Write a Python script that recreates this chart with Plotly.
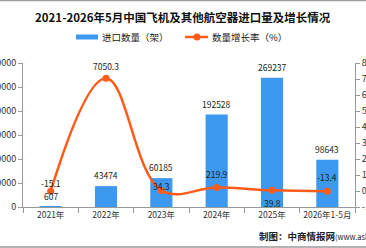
import plotly.graph_objects as go

categories = ["2021年", "2022年", "2023年", "2024年", "2025年", "2026年1-5月"]
import_qty = [607, 43474, 60185, 192528, 269237, 98643]
growth_rate = [-15.1, 7050.3, 34.3, 219.9, 39.8, -13.4]
left_ticks = [0, 50000, 100000, 150000, 200000, 250000, 300000]
right_ticks = [-1000, 0, 1000, 2000, 3000, 4000, 5000, 6000, 7000, 8000]

# style: vertical offsets of growth labels (px)
growth_label_shift = [8, 12, 4, 13, -13, 14]

W, H = 366, 248
L, R, T, B = 23, 11, 63, 41
pw, ph = W - L - R, H - T - B

def px(x):
    return (x - L) / pw

def py(y):
    return (H - B - y) / ph

BLUE = "#3d98ef"
ORANGE = "#ff5c1a"
FONT = "Noto Sans CJK SC, Liberation Sans, sans-serif"

fig = go.Figure()
fig.add_trace(go.Bar(x=categories, y=import_qty, marker=dict(color=BLUE, line=dict(width=0)),
                     showlegend=False, yaxis="y"))
fig.add_trace(go.Scatter(x=categories, y=growth_rate, yaxis="y2", mode="lines+markers",
                         line=dict(color=ORANGE, width=2.5, shape="spline", smoothing=1.1),
                         marker=dict(color=ORANGE, size=7), showlegend=False, cliponaxis=False))

ann = []
for c, v in zip(categories, import_qty):
    ann.append(dict(x=c, y=v, xref="x", yref="y", text=str(v), showarrow=False,
                    yanchor="middle", yshift=11, font=dict(size=8.5, color="#222", family=FONT)))
for c, v, s in zip(categories, growth_rate, growth_label_shift):
    ann.append(dict(x=c, y=v, xref="x", yref="y2", text=f"{v}", showarrow=False,
                    yanchor="middle", yshift=s, font=dict(size=8.5, color="#222", family=FONT)))

# title
ann.append(dict(x=px(183), y=py(17), xref="paper", yref="paper", showarrow=False,
                text="<b>2021-2026年5月中国飞机及其他航空器进口量及增长情况</b>",
                font=dict(size=11.5, color="#111", family=FONT), xanchor="center", yanchor="middle"))
# legend texts
ann.append(dict(x=px(100), y=py(37), xref="paper", yref="paper", showarrow=False,
                text="进口数量（架）", font=dict(size=9.5, color="#222", family=FONT),
                xanchor="left", yanchor="middle"))
ann.append(dict(x=px(210), y=py(37), xref="paper", yref="paper", showarrow=False,
                text="数量增长率（%）", font=dict(size=9.5, color="#222", family=FONT),
                xanchor="left", yanchor="middle"))
# footer
ann.append(dict(x=px(257), y=py(236), xref="paper", yref="paper", showarrow=False,
                text="<b>制图：中商情报网</b><span style='font-size:7.5px'>(www.askci.com)</span>",
                font=dict(size=9.5, color="#222", family=FONT), xanchor="left", yanchor="middle"))

shapes = [
    dict(type="rect", xref="paper", yref="paper", x0=px(76), x1=px(98), y0=py(34.5), y1=py(39.5),
         fillcolor=BLUE, line=dict(width=0)),
    dict(type="line", xref="paper", yref="paper", x0=px(185), x1=px(208), y0=py(37), y1=py(37),
         line=dict(color=ORANGE, width=2.5)),
    dict(type="circle", xref="paper", yref="paper", x0=px(193.5), x1=px(200.5), y0=py(33.5), y1=py(40.5),
         fillcolor=ORANGE, line=dict(width=0)),
    dict(type="line", xref="paper", yref="paper", x0=px(0), x1=px(366), y0=py(0.5), y1=py(0.5),
         line=dict(color="#9a9a9a", width=1.5)),
    dict(type="line", xref="paper", yref="paper", x0=px(0), x1=px(366), y0=py(247), y1=py(247),
         line=dict(color="#9a9a9a", width=1.5)),
]

axis_font = dict(size=9, color="#333", family=FONT)
fig.update_layout(
    width=W, height=H, margin=dict(l=L, r=R, t=T, b=B, autoexpand=False),
    paper_bgcolor="white", plot_bgcolor="white",
    bargap=0.6, showlegend=False,
    annotations=ann, shapes=shapes,
    xaxis=dict(type="category", showline=True, linecolor="#999", linewidth=1,
               ticks="outside", tickson="boundaries", ticklen=5, tickcolor="#999",
               tickangle=0, tickfont=dict(size=8.5, color="#333", family=FONT),
               showgrid=False, automargin=False),
    yaxis=dict(range=[0, 300000], tickvals=left_ticks, ticktext=[str(t) for t in left_ticks],
               showline=True, linecolor="#999", ticks="outside", ticklen=4, tickcolor="#999",
               tickfont=axis_font, showgrid=False, zeroline=False, automargin=False),
    yaxis2=dict(range=[-1000, 8000], tickvals=right_ticks, ticktext=[str(t) for t in right_ticks],
                overlaying="y", side="right", showline=True, linecolor="#999", ticks="outside",
                ticklen=4, tickcolor="#999", tickfont=axis_font, showgrid=False,
                zeroline=False, automargin=False),
)

fig.write_html("out.html")
